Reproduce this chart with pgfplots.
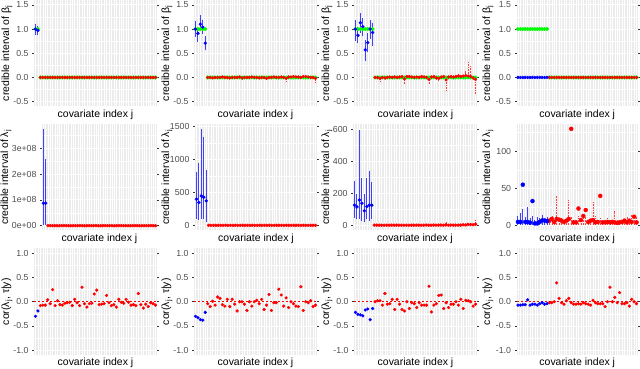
\documentclass[border=0pt]{standalone}
\usepackage{fontspec}
\setmainfont{Liberation Sans}
\usepackage{pgfplots}
\usepackage{pgfplotstable}
\pgfplotsset{compat=1.18}

\definecolor{panelbg}{HTML}{EBEBEB}
\definecolor{tickgrey}{HTML}{333333}
\definecolor{labgrey}{HTML}{4D4D4D}
\definecolor{ggblue}{HTML}{0000FF}
\definecolor{ggred}{HTML}{FF0000}
\definecolor{gggreen}{HTML}{00FF00}
\definecolor{barblue}{HTML}{4040FF}
\definecolor{barred}{HTML}{FF4040}

% row 1: credible intervals of beta_j  (j, mean, lower, upper, true value)
\pgfplotstableread{
j m lo hi t
1 1.00 0.88 1.10 1
2 0.97 0.87 1.07 1
3 0 0 0 0
4 0 0 0 0
5 0 0 0 0
6 0 0 0 0
7 0 0 0 0
8 0 0 0 0
9 0 0 0 0
10 0 0 0 0
11 0 0 0 0
12 0 0 0 0
13 0 0 0 0
14 0 0 0 0
15 0 0 0 0
16 0 0 0 0
17 0 0 0 0
18 0 0 0 0
19 0 0 0 0
20 0 0 0 0
21 0 0 0 0
22 0 0 0 0
23 0 0 0 0
24 0 0 0 0
25 0 0 0 0
26 0 0 0 0
27 0 0 0 0
28 0 0 0 0
29 0 0 0 0
30 0 0 0 0
31 0 0 0 0
32 0 0 0 0
33 0 0 0 0
34 0 0 0 0
35 0 0 0 0
36 0 0 0 0
37 0 0 0 0
38 0 0 0 0
39 0 0 0 0
40 0 0 0 0
41 0 0 0 0
42 0 0 0 0
43 0 0 0 0
44 0 0 0 0
45 0 0 0 0
46 0 0 0 0
47 0 0 0 0
48 0 0 0 0
49 0 0 0 0
50 0 0 0 0
}\betaA

\pgfplotstableread{
j m lo hi t
1 1.00 0.84 1.17 1
2 0.91 0.73 1.02 1
3 1.10 0.95 1.29 1
4 1.04 0.89 1.19 1
5 0.71 0.56 0.85 1
6 0 -0.02 0.02 0
7 0 -0.02 0.02 0
8 -0.01 -0.03 0.01 0
9 0 -0.02 0.02 0
10 0 -0.02 0.02 0
11 0 -0.02 0.02 0
12 0.01 -0.01 0.03 0
13 0 -0.02 0.02 0
14 0 -0.02 0.02 0
15 -0.01 -0.03 0.01 0
16 0 -0.02 0.02 0
17 0 -0.02 0.02 0
18 0 -0.02 0.02 0
19 0.01 -0.01 0.03 0
20 -0.01 -0.04 0.01 0
21 0 -0.02 0.02 0
22 0 -0.02 0.02 0
23 0 -0.02 0.02 0
24 0.01 -0.01 0.03 0
25 0 -0.02 0.02 0
26 0 -0.02 0.02 0
27 -0.01 -0.03 0.01 0
28 0 -0.02 0.02 0
29 0 -0.02 0.02 0
30 -0.02 -0.05 0.01 0
31 0 -0.02 0.02 0
32 0 -0.02 0.02 0
33 0.01 -0.01 0.03 0
34 0 -0.02 0.02 0
35 0 -0.02 0.02 0
36 0.01 -0.01 0.03 0
37 0 -0.02 0.02 0
38 -0.02 -0.09 0.01 0
39 0.01 -0.01 0.03 0
40 0.01 -0.01 0.03 0
41 0.02 0 0.04 0
42 0.01 -0.01 0.03 0
43 0.01 -0.01 0.03 0
44 0 -0.02 0.02 0
45 0.02 0 0.04 0
46 0.02 -0.01 0.05 0
47 0.01 -0.01 0.03 0
48 0 -0.02 0.02 0
49 0 -0.02 0.02 0
50 -0.02 -0.11 0.01 0
}\betaB

\pgfplotstableread{
j m lo hi t
1 1.00 0.75 1.19 1
2 0.87 0.71 1.05 1
3 1.13 0.92 1.34 1
4 1.05 0.85 1.22 1
5 0.57 0.34 0.78 1
6 0.72 0.52 0.92 1
7 1.00 0.80 1.19 1
8 0.93 0.65 1.12 1
9 0 -0.03 0.03 0
10 0 -0.03 0.03 0
11 -0.02 -0.09 0.01 0
12 0 -0.03 0.03 0
13 -0.01 -0.04 0.02 0
14 0 -0.03 0.03 0
15 0.01 -0.02 0.04 0
16 0 -0.03 0.03 0
17 0.01 -0.02 0.04 0
18 0 -0.03 0.03 0
19 0.01 -0.02 0.04 0
20 0.02 -0.01 0.05 0
21 -0.03 -0.14 0.01 0
22 0.02 -0.01 0.05 0
23 0.02 -0.01 0.05 0
24 0.01 -0.02 0.04 0
25 0 -0.03 0.03 0
26 0.01 -0.02 0.04 0
27 0 -0.03 0.03 0
28 0.02 -0.01 0.05 0
29 0.01 -0.02 0.04 0
30 0 -0.03 0.03 0
31 -0.04 -0.14 0.01 0
32 0.01 -0.02 0.04 0
33 0.02 -0.01 0.05 0
34 -0.01 -0.04 0.02 0
35 -0.02 -0.07 0.01 0
36 0.01 -0.02 0.04 0
37 0.02 -0.01 0.05 0
38 -0.05 -0.27 0.02 0
39 0.01 -0.02 0.04 0
40 0.02 -0.01 0.05 0
41 0.01 -0.02 0.04 0
42 0.02 -0.01 0.05 0
43 0.03 0 0.08 0
44 0.02 -0.01 0.05 0
45 0.03 0 0.06 0
46 0.04 0 0.14 0
47 0.03 0 0.33 0
48 0.02 -0.01 0.24 0
49 -0.01 -0.04 0.02 0
50 -0.04 -0.34 0.01 0
}\betaC

\pgfplotstableread{
j m lo hi t
1 0 0 0 1
2 0 0 0 1
3 0 0 0 1
4 0 0 0 1
5 0 0 0 1
6 0 0 0 1
7 0 0 0 1
8 0 0 0 1
9 0 0 0 1
10 0 0 0 1
11 0 0 0 1
12 0 0 0 1
13 0 0 0 1
14 0 0 0 0
15 0 0 0 0
16 0 0 0 0
17 0 0 0 0
18 0 0 0 0
19 0 0 0 0
20 0 0 0 0
21 0 0 0 0
22 0 0 0 0
23 0 0 0 0
24 0 0 0 0
25 0 0 0 0
26 0 0 0 0
27 0 0 0 0
28 0 0 0 0
29 0 0 0 0
30 0 0 0 0
31 0 0 0 0
32 0 0 0 0
33 0 0 0 0
34 0 0 0 0
35 0 0 0 0
36 0 0 0 0
37 0 0 0 0
38 0 0 0 0
39 0 0 0 0
40 0 0 0 0
41 0 0 0 0
42 0 0 0 0
43 0 0 0 0
44 0 0 0 0
45 0 0 0 0
46 0 0 0 0
47 0 0 0 0
48 0 0 0 0
49 0 0 0 0
50 0 0 0 0
}\betaD

% row 2: credible intervals of lambda_j (j, mean, lower, upper)
\pgfplotstableread{
j m lo hi
1 8.7e7 1e6 3.75e8
2 8.7e7 1e6 2.6e8
3 0 0 0
4 0 0 0
5 0 0 0
6 0 0 0
7 0 0 0
8 0 0 0
9 0 0 0
10 0 0 0
11 0 0 0
12 0 0 0
13 0 0 0
14 0 0 0
15 0 0 0
16 0 0 0
17 0 0 0
18 0 0 0
19 0 0 0
20 0 0 0
21 0 0 0
22 0 0 0
23 0 0 0
24 0 0 0
25 0 0 0
26 0 0 0
27 0 0 0
28 0 0 0
29 0 0 0
30 0 0 0
31 0 0 0
32 0 0 0
33 0 0 0
34 0 0 0
35 0 0 0
36 0 0 0
37 0 0 0
38 0 0 0
39 0 0 0
40 0 0 0
41 0 0 0
42 0 0 0
43 0 0 0
44 0 0 0
45 0 0 0
46 0 0 0
47 0 0 0
48 0 0 0
49 0 0 0
50 0 0 0
}\lamA

\pgfplotstableread{
j m lo hi
1 400 100 810
2 350 85 950
3 450 100 1460
4 430 100 1340
5 375 50 835
6 5 0 15
7 5 0 15
8 5 0 15
9 5 0 15
10 5 0 15
11 5 0 15
12 5 0 15
13 5 0 15
14 5 0 15
15 5 0 15
16 5 0 15
17 5 0 15
18 5 0 15
19 5 0 15
20 5 0 15
21 5 0 15
22 5 0 15
23 5 0 15
24 5 0 15
25 5 0 15
26 5 0 15
27 5 0 15
28 5 0 15
29 5 0 15
30 5 0 15
31 5 0 15
32 5 0 15
33 5 0 15
34 5 0 15
35 5 0 15
36 5 0 15
37 5 0 15
38 5 0 15
39 5 0 15
40 5 0 15
41 5 0 15
42 5 0 15
43 5 0 15
44 5 0 15
45 5 0 15
46 5 0 15
47 5 0 15
48 5 0 15
49 5 0 15
50 5 0 15
}\lamB

\pgfplotstableread{
j m lo hi
1 128 45 282
2 117 40 200
3 160 40 600
4 140 30 297
5 93 20 200
6 120 40 297
7 128 30 344
8 128 40 272
9 3 0 8
10 3 0 8
11 3 0 8
12 3 0 8
13 3 0 8
14 3 0 8
15 3 0 8
16 3 0 8
17 3 0 8
18 3 0 8
19 3 0 8
20 3 0 8
21 3 0 8
22 3 0 8
23 3 0 8
24 3 0 8
25 3 0 8
26 3 0 8
27 3 0 8
28 3 0 8
29 3 0 8
30 4 0 10
31 3 0 8
32 3 0 8
33 4 0 10
34 3 0 8
35 3 0 8
36 4 0 10
37 3 0 8
38 5 0 25
39 3 0 8
40 4 0 10
41 3 0 8
42 4 0 10
43 3 0 8
44 4 0 10
45 6 0 12
46 5 0 10
47 8 0 15
48 7 0 12
49 6 0 12
50 9 0 35
}\lamC

\pgfplotstableread{
j m lo hi
1 5 0.5 13
2 5 0.5 17
3 55 0.5 22
4 5 0.5 12
5 5 0.5 25
6 4 0.5 10
7 33 0.5 13
8 3 0.5 8
9 3 0.5 12
10 5 0.5 10
11 7 0.5 14
12 7 0.5 9
13 6 0.5 11
14 6.7 0.5 9
15 9 0.5 13
16 5 0.5 8
17 9 0.5 41
18 8 0.5 9
19 6.7 0.5 10
20 5 0.5 8
21 6.7 0.5 9
22 9 0.5 35
23 130 0.5 12
24 4.4 0.5 8
25 4.4 0.5 9
26 23 0.5 13
27 7.5 0.5 9
28 13 0.5 10
29 21 0.5 12
30 5 0.5 8
31 6.7 0.5 9
32 7.5 0.5 32
33 4.4 0.5 13
34 5 0.5 8
35 40 0.5 10
36 4.4 0.5 8
37 4.4 0.5 9
38 5 0.5 11
39 4.4 0.5 8
40 5 0.5 9
41 4.4 0.5 20
42 3.6 0.5 8
43 4.4 0.5 9
44 5 0.5 8
45 6.7 0.5 9
46 4.4 0.5 12
47 6.7 0.5 9
48 5 0.5 15
49 12 0.5 9
50 4.4 0.5 12
}\lamD

% row 3: cor(lambda_j, tau | y), one column per panel
\pgfplotstableread{
j c1 c2 c3 c4
1 -0.30 -0.30 -0.22 -0.07
2 -0.19 -0.33 -0.26 -0.07
3 -0.08 -0.37 -0.27 -0.06
4 -0.07 -0.38 -0.29 -0.06
5 -0.07 -0.22 -0.17 0.04
6 0.04 -0.04 -0.15 -0.07
7 -0.04 -0.10 -0.37 -0.05
8 0.25 0.01 -0.14 -0.05
9 -0.08 -0.07 0 -0.07
10 0.02 0.10 0.02 -0.04
11 -0.06 0.07 0.02 -0.02
12 -0.07 -0.06 -0.07 -0.05
13 -0.03 -0.09 0.17 -0.04
14 -0.02 0.05 -0.05 -0.02
15 -0.01 -0.10 -0.04 -0.02
16 -0.08 0.05 0.05 0
17 0.05 -0.05 -0.16 0.39
18 -0.02 -0.19 0.05 0.07
19 -0.08 0 -0.05 -0.02
20 0.30 0 -0.16 -0.05
21 -0.04 -0.05 -0.19 0.02
22 -0.11 -0.18 0 0.07
23 -0.04 0 -0.14 -0.02
24 -0.03 -0.09 -0.02 -0.05
25 0.16 0 -0.04 -0.05
26 0.24 0.03 -0.12 -0.04
27 -0.06 -0.04 -0.02 -0.05
28 -0.05 0.05 -0.07 -0.02
29 -0.04 -0.16 -0.07 -0.04
30 0.13 -0.07 -0.07 -0.05
31 -0.02 0.15 0.32 -0.07
32 -0.08 -0.18 -0.21 0.03
33 -0.06 -0.02 -0.07 -0.02
34 -0.11 -0.02 -0.04 -0.04
35 0.05 0.26 0.13 -0.04
36 -0.01 0.14 0.14 -0.04
37 -0.03 -0.09 -0.14 -0.10
38 0.05 0.08 -0.02 0
39 -0.01 -0.12 -0.12 0.30
40 -0.07 0 -0.05 0
41 -0.06 -0.04 -0.05 0.09
42 -0.08 -0.09 0 -0.02
43 0.17 -0.10 -0.07 0.19
44 -0.06 0.31 0.05 -0.04
45 -0.13 -0.18 -0.14 -0.04
46 -0.05 0 0.03 -0.02
47 -0.10 -0.02 0.02 -0.09
48 -0.02 0.02 0 0.05
49 -0.04 -0.10 -0.09 0
50 -0.07 -0.07 -0.05 -0.04
}\corr

\pgfplotsset{
  panel/.style={
    scale only axis, width=123bp, height=106.5bp, anchor=south west,
    axis background/.style={fill=panelbg},
    axis line style={draw=none},
    xmin=0.4, xmax=50.6,
    xtick={1,...,50}, xticklabels={},
    scaled y ticks=false,
    xmajorgrids, ymajorgrids, yminorgrids,
    major x grid style={white, line width=0.45bp},
    major y grid style={white, line width=0.9bp},
    minor y grid style={white, line width=0.45bp},
    tick align=outside, major tick length=2bp, minor tick length=0bp,
    xtick style={draw=none},
    ytick style={draw=tickgrey, line width=0.5bp},
    yticklabel style={font=\fontsize{8.8}{10}\selectfont, text=labgrey, inner sep=0pt, xshift=-3.3bp},
    xlabel={covariate index j},
    xlabel style={font=\fontsize{10.5}{12}\selectfont, at={(axis description cs:0.5,0)}, anchor=north, inner sep=0pt, yshift=-3bp},
    ylabel style={font=\fontsize{10.5}{12}\selectfont, anchor=center, inner sep=0pt},
  },
  yl/.style={ylabel style={at={(axis description cs:#1,0.5)}}},
  betapanel/.style={panel, ymin=-0.6, ymax=1.6,
    ytick={-0.5,0,0.5,1,1.5}, yticklabels={-0.5,0.0,0.5,1.0,1.5},
    minor ytick={-0.25,0.25,0.75,1.25},
    ylabel={credible interval of β\textsubscript{j}}},
  corpanel/.style={panel, ymin=-1.1, ymax=1.1,
    ytick={-1,-0.5,0,0.5,1}, yticklabels={-1.0,-0.5,0.0,0.5,1.0},
    minor ytick={-0.75,-0.25,0.25,0.75},
    ylabel={cor(λ\textsubscript{j}, τ|y)}},
  lampanel/.style={panel, ylabel={credible interval of λ\textsubscript{j}}},
  % points
  pt/.style={only marks, color=#1, mark=*, mark size=1.5bp,
    mark options={draw=none, fill=#1}},
  % interval from lo to hi, drawn as an error bar above lo
  bar/.style={color=#1, mark=none,
    error bars/y dir=plus, error bars/y explicit, error bars/error mark=none},
  sigbar/.style={bar=barblue, error bars/error bar style={color=barblue, line width=1bp, solid}},
  nulbar/.style={bar=barred, error bars/error bar style={color=barred, line width=0.6bp, dash pattern=on 0.8bp off 0.8bp}},
  zero/.style={ggred, line width=0.6bp, dash pattern=on 2bp off 2bp},
  table/ci/.style={x=j, y=lo, y error plus expr=\thisrow{hi}-\thisrow{lo}},
}

\begin{document}
\begin{tikzpicture}
\useasboundingbox (0,0) rectangle (640bp,369bp);

% ---------------- row 1: beta ----------------
\begin{axis}[betapanel, yl=-0.2195, at={(34bp,262.5bp)}]
  \addplot[pt=gggreen, mark size=1.8bp] table[x=j, y=t] {\betaA};
  \addplot[nulbar, draw=none, restrict x to domain=3:50] table[ci] {\betaA};
  \addplot[pt=ggred, mark size=1.4bp, restrict x to domain=3:50] table[x=j, y=m] {\betaA};
  \addplot[sigbar, draw=none, restrict x to domain=1:2] table[ci] {\betaA};
  \addplot[pt=ggblue, restrict x to domain=1:2] table[x=j, y=m] {\betaA};
\end{axis}
\begin{axis}[betapanel, yl=-0.2195, at={(194bp,262.5bp)}]
  \addplot[pt=gggreen, mark size=1.8bp] table[x=j, y=t] {\betaB};
  \addplot[nulbar, draw=none, restrict x to domain=6:50] table[ci] {\betaB};
  \addplot[pt=ggred, mark size=1.4bp, restrict x to domain=6:50] table[x=j, y=m] {\betaB};
  \addplot[sigbar, draw=none, restrict x to domain=1:5] table[ci] {\betaB};
  \addplot[pt=ggblue, restrict x to domain=1:5] table[x=j, y=m] {\betaB};
\end{axis}
\begin{axis}[betapanel, yl=-0.2195, at={(354bp,262.5bp)}]
  \addplot[pt=gggreen, mark size=1.8bp] table[x=j, y=t] {\betaC};
  \addplot[nulbar, draw=none, restrict x to domain=9:50] table[ci] {\betaC};
  \addplot[pt=ggred, mark size=1.4bp, restrict x to domain=9:50] table[x=j, y=m] {\betaC};
  \addplot[sigbar, draw=none, restrict x to domain=1:8] table[ci] {\betaC};
  \addplot[pt=ggblue, restrict x to domain=1:8] table[x=j, y=m] {\betaC};
\end{axis}
\begin{axis}[betapanel, yl=-0.2346, width=121.5bp, at={(516.5bp,262.5bp)}]
  \addplot[pt=gggreen, mark size=1.8bp] table[x=j, y=t] {\betaD};
  \addplot[pt=ggred, mark size=1.4bp, restrict x to domain=14:50] table[x=j, y=m] {\betaD};
  \addplot[pt=ggblue, restrict x to domain=1:13] table[x=j, y=m] {\betaD};
\end{axis}

% ---------------- row 2: lambda ----------------
\begin{axis}[lampanel, yl=-0.313, width=115bp, at={(42bp,138.5bp)},
  ymin=-1.875e7, ymax=3.9375e8,
  ytick={0,1e8,2e8,3e8}, yticklabels={0e+00,1e+08,2e+08,3e+08},
  minor ytick={0.5e8,1.5e8,2.5e8,3.5e8}]
  \addplot[pt=ggred, restrict x to domain=3:50] table[x=j, y=m] {\lamA};
  \addplot[sigbar, draw=none, restrict x to domain=1:2] table[ci] {\lamA};
  \addplot[pt=ggblue, restrict x to domain=1:2] table[x=j, y=m] {\lamA};
\end{axis}
\begin{axis}[lampanel, yl=-0.23, width=122bp, at={(195bp,138.5bp)},
  ymin=-73, ymax=1537,
  ytick={0,500,1000,1500}, yticklabels={0,500,1000,1500},
  minor ytick={250,750,1250}]
  \addplot[pt=ggred, restrict x to domain=6:50] table[x=j, y=m] {\lamB};
  \addplot[sigbar, draw=none, restrict x to domain=1:5] table[ci] {\lamB};
  \addplot[pt=ggblue, restrict x to domain=1:5] table[x=j, y=m] {\lamB};
\end{axis}
\begin{axis}[lampanel, yl=-0.21, width=124bp, at={(353bp,138.5bp)},
  ymin=-30, ymax=635,
  ytick={0,200,400,600}, yticklabels={0,200,400,600},
  minor ytick={100,300,500}]
  \addplot[nulbar, draw=none, restrict x to domain=9:50] table[ci] {\lamC};
  \addplot[pt=ggred, restrict x to domain=9:50] table[x=j, y=m] {\lamC};
  \addplot[sigbar, draw=none, restrict x to domain=1:8] table[ci] {\lamC};
  \addplot[pt=ggblue, restrict x to domain=1:8] table[x=j, y=m] {\lamC};
\end{axis}
\begin{axis}[lampanel, yl=-0.2346, width=121.5bp, at={(516.5bp,138.5bp)},
  ymin=-6.5, ymax=136.5,
  ytick={0,50,100}, yticklabels={0,50,100},
  minor ytick={25,75,125}]
  \addplot[nulbar, draw=none, restrict x to domain=14:50] table[ci] {\lamD};
  \addplot[pt=ggred, mark size=2bp, restrict x to domain=14:50] table[x=j, y=m] {\lamD};
  \addplot[sigbar, draw=none, restrict x to domain=1:13] table[ci] {\lamD};
  \addplot[pt=ggblue, mark size=2bp, restrict x to domain=1:13] table[x=j, y=m] {\lamD};
\end{axis}

% ---------------- row 3: correlation ----------------
\begin{axis}[corpanel, yl=-0.2195, at={(34bp,14bp)}]
  \addplot[zero] coordinates {(0.4,0) (50.6,0)};
  \addplot[pt=ggred, mark size=1.4bp, restrict x to domain=3:50] table[x=j, y=c1] {\corr};
  \addplot[pt=ggblue, mark size=1.4bp, restrict x to domain=1:2] table[x=j, y=c1] {\corr};
\end{axis}
\begin{axis}[corpanel, yl=-0.2195, at={(194bp,14bp)}]
  \addplot[zero] coordinates {(0.4,0) (50.6,0)};
  \addplot[pt=ggred, mark size=1.4bp, restrict x to domain=6:50] table[x=j, y=c2] {\corr};
  \addplot[pt=ggblue, mark size=1.4bp, restrict x to domain=1:5] table[x=j, y=c2] {\corr};
\end{axis}
\begin{axis}[corpanel, yl=-0.2195, at={(354bp,14bp)}]
  \addplot[zero] coordinates {(0.4,0) (50.6,0)};
  \addplot[pt=ggred, mark size=1.4bp, restrict x to domain=9:50] table[x=j, y=c3] {\corr};
  \addplot[pt=ggblue, mark size=1.4bp, restrict x to domain=1:8] table[x=j, y=c3] {\corr};
\end{axis}
\begin{axis}[corpanel, yl=-0.2346, width=121.5bp, at={(516.5bp,14bp)}]
  \addplot[zero] coordinates {(0.4,0) (50.6,0)};
  \addplot[pt=ggred, mark size=1.4bp, restrict x to domain=14:50] table[x=j, y=c4] {\corr};
  \addplot[pt=ggblue, mark size=1.4bp, restrict x to domain=1:13] table[x=j, y=c4] {\corr};
\end{axis}
\end{tikzpicture}
\end{document}
